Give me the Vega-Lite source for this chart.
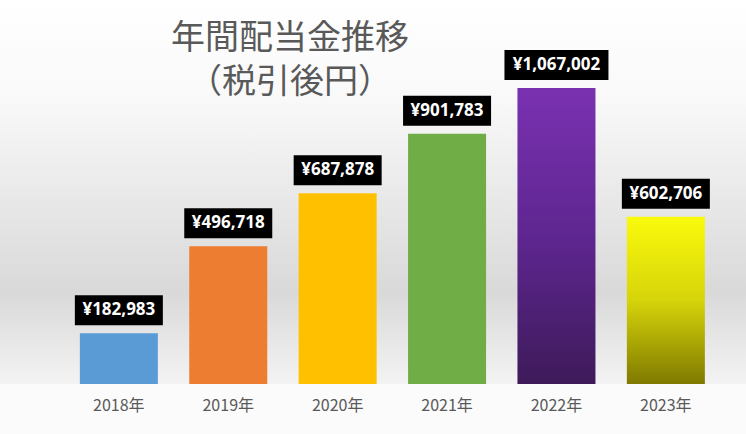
{
  "$schema": "https://vega.github.io/schema/vega-lite/v6.json",
  "width": 746,
  "height": 384,
  "autosize": {"type": "none"},
  "padding": {"left": 0, "top": 0, "right": 0, "bottom": 50},
  "background": "#fbfbfb",
  "config": {
    "view": {
      "stroke": null,
      "fill": {
        "gradient": "linear", "x1": 0, "y1": 0, "x2": 0, "y2": 1,
        "stops": [
          {"offset": 0, "color": "#ffffff"},
          {"offset": 0.25, "color": "#f9f9f9"},
          {"offset": 0.76, "color": "#d9d9d9"},
          {"offset": 1, "color": "#f3f3f3"}
        ]
      }
    },
    "locale": {
      "number": {"decimal": ".", "thousands": ",", "grouping": [3], "currency": ["¥", ""]}
    }
  },
  "title": {
    "text": ["年間配当金推移", "（税引後円）"],
    "orient": "top",
    "anchor": "start",
    "frame": "group",
    "align": "center",
    "baseline": "top",
    "dx": 290,
    "offset": -100,
    "font": "Noto Sans CJK JP",
    "fontSize": 34,
    "fontWeight": "normal",
    "lineHeight": 44,
    "color": "#595959"
  },
  "data": {
    "values": [
      {"year": "2018年", "value": 182983},
      {"year": "2019年", "value": 496718},
      {"year": "2020年", "value": 687878},
      {"year": "2021年", "value": 901783},
      {"year": "2022年", "value": 1067002},
      {"year": "2023年", "value": 602706}
    ]
  },
  "encoding": {
    "x": {
      "field": "year", "type": "nominal", "sort": null,
      "scale": {"paddingInner": 0.287, "paddingOuter": 0.553, "align": 0.66},
      "axis": {
        "title": null, "domain": false, "ticks": false, "labelAngle": 0,
        "labelFont": "Noto Sans CJK JP", "labelFontSize": 16, "labelColor": "#595959",
        "labelPadding": 13, "grid": false
      }
    },
    "y": {
      "field": "value", "type": "quantitative",
      "scale": {"domain": [0, 1384000], "nice": false, "zero": true},
      "axis": null
    }
  },
  "layer": [
    {
      "transform": [{"filter": "datum.value < 1000000 && datum.year != '2023年'"}],
      "mark": {"type": "bar"},
      "encoding": {
        "color": {
          "field": "year", "type": "nominal", "legend": null,
          "scale": {
            "domain": ["2018年", "2019年", "2020年", "2021年"],
            "range": ["#5b9bd5", "#ed7d31", "#ffc000", "#70ad47"]
          }
        }
      }
    },
    {
      "transform": [{"filter": "datum.year == '2022年'"}],
      "mark": {
        "type": "bar",
        "color": {
          "gradient": "linear", "x1": 0, "y1": 0, "x2": 0, "y2": 1,
          "stops": [
            {"offset": 0, "color": "#7a31b1"},
            {"offset": 0.5, "color": "#5e2690"},
            {"offset": 1, "color": "#3e1a5a"}
          ]
        }
      }
    },
    {
      "transform": [{"filter": "datum.year == '2023年'"}],
      "mark": {
        "type": "bar",
        "color": {
          "gradient": "linear", "x1": 0, "y1": 0, "x2": 0, "y2": 1,
          "stops": [
            {"offset": 0, "color": "#fafa0c"},
            {"offset": 0.5, "color": "#d6d40a"},
            {"offset": 1, "color": "#7f7a00"}
          ]
        }
      }
    },
    {
      "mark": {"type": "bar", "color": "#000000", "yOffset": -8, "y2Offset": -38},
      "encoding": {
        "y2": {"field": "value"},
        "size": {
          "field": "value", "type": "quantitative", "legend": null,
          "scale": {"type": "threshold", "domain": [1000000], "range": [88, 104]}
        }
      }
    },
    {
      "mark": {
        "type": "text", "color": "#ffffff", "font": "Open Sans", "fontWeight": "bold",
        "fontSize": 17, "baseline": "middle", "align": "center", "yOffset": -23
      },
      "encoding": {
        "text": {"field": "value", "type": "quantitative", "format": "$,"}
      }
    }
  ]
}
